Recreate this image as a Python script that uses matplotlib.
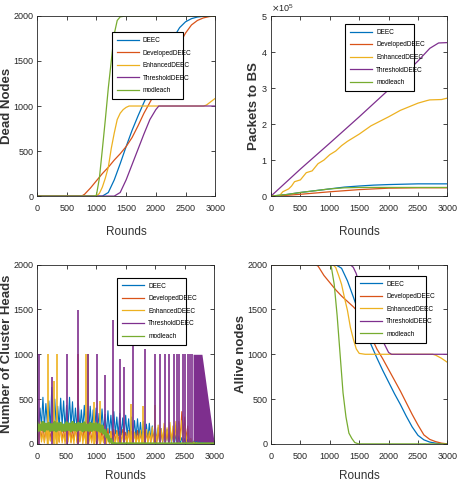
import numpy as np
import matplotlib
matplotlib.use('Agg')
import matplotlib.pyplot as plt

plt.rcParams['font.family'] = ['Liberation Sans', 'DejaVu Sans']

# ---- shared ----
PROTOCOLS = ['DEEC', 'DevelopedDEEC', 'EnhancedDEEC', 'ThresholdDEEC', 'modleach']
COLORS = ['#0072BD', '#D95319', '#EDB120', '#7E2F8E', '#77AC30']

# ---- dead nodes (rounds, dead) ----
dead_deec_x = [0, 1100, 1200, 1300, 1400, 1500, 1600, 1700, 1800, 1900, 2000, 2100, 2200,
               2300, 2400, 2500, 2600, 2700, 2800, 2900, 3000]
dead_deec_y = [0, 0, 40, 180, 360, 550, 730, 890, 1040, 1180, 1320, 1460, 1610,
               1760, 1870, 1935, 1970, 1988, 1996, 1999, 2000]
dead_dev_x = [0, 750, 800, 900, 1000, 1100, 1200, 1300, 1400, 1500, 1600, 1700, 1800, 1900,
              2000, 2100, 2200, 2300, 2400, 2500, 2600, 2700, 2800, 2900, 3000]
dead_dev_y = [0, 0, 20, 90, 170, 250, 320, 400, 470, 550, 650, 780, 920, 1040,
              1160, 1290, 1420, 1560, 1690, 1810, 1900, 1950, 1978, 1993, 2000]
dead_enh_x = [0, 1000, 1050, 1100, 1150, 1200, 1250, 1300, 1350, 1400, 1450, 1500, 1550,
              2800, 2850, 2900, 3000]
dead_enh_y = [0, 0, 30, 100, 200, 320, 530, 700, 850, 920, 960, 985, 1000,
              1000, 1010, 1035, 1085]
dead_thr_x = [0, 1300, 1400, 1500, 1600, 1700, 1800, 1900, 2000, 2050, 3000]
dead_thr_y = [0, 0, 40, 180, 350, 520, 690, 850, 960, 1000, 1000]
dead_mod_x = [0, 950, 1000, 1050, 1100, 1150, 1200, 1250, 1300, 1350, 1400, 1500, 3000]
dead_mod_y = [0, 0, 10, 200, 520, 850, 1200, 1500, 1800, 1950, 1990, 2000, 2000]

# ---- packets to BS ----
pk_deec_x = [0, 250, 500, 750, 1000, 1250, 1500, 1750, 2000, 2500, 3000]
pk_deec_y = [0, 4000, 10000, 15000, 20000, 25000, 28000, 30500, 32000, 34000, 34000]
pk_dev_x = [0, 250, 500, 750, 1000, 1250, 1500, 2000, 2500, 3000]
pk_dev_y = [0, 2000, 5000, 8500, 12000, 15000, 18000, 22000, 23000, 23000]
pk_enh_x = [0, 150, 200, 300, 350, 400, 500, 550, 600, 700, 750, 800, 900, 1000, 1100, 1200,
            1300, 1500, 1700, 2000, 2200, 2500, 2650, 2700, 2900, 3000]
pk_enh_y = [0, 2000, 12000, 20000, 28000, 40000, 45000, 55000, 65000, 70000, 80000, 90000,
            100000, 115000, 125000, 140000, 152000, 172000, 195000, 220000, 238000, 258000,
            265000, 267000, 268000, 272000]
pk_thr_x = [0, 500, 1000, 1500, 2000, 2500, 2700, 2850, 3000]
pk_thr_y = [0, 75000, 147000, 220000, 295000, 375000, 410000, 425000, 426000]
pk_mod_x = [0, 250, 500, 750, 1000, 1250, 1500, 2000, 2500, 3000]
pk_mod_y = [0, 4000, 10000, 15000, 20000, 23000, 24000, 24000, 24000, 24000]

# ---- cluster heads: noisy band read as peaks (every 50 rounds) and troughs (offset 25) ----
ch_peak_x = list(range(0, 3001, 50))
ch_trough_x = list(range(25, 3000, 50))
ch_deec_peak = [350, 400, 520, 450, 480, 630, 500, 420, 510, 480, 430, 520, 470, 400, 450, 380,
                430, 360, 420, 380, 400, 340, 390, 330, 370, 320, 360, 300, 340, 290, 320, 280,
                300, 260, 280, 240, 250, 220, 230, 200, 210, 180, 170, 150, 160, 130, 120, 100,
                90, 70, 60, 50, 40, 30, 25, 20, 15, 10, 8, 5, 3]
ch_deec_trough = [150, 200, 180, 220, 160, 250, 200, 180, 210, 170, 190, 200, 150, 180, 160, 170,
                  150, 140, 160, 130, 150, 120, 140, 110, 120, 100, 110, 90, 100, 80, 90, 70,
                  80, 60, 70, 50, 60, 40, 50, 40, 30, 30, 20, 20, 15, 10, 10, 8, 5, 5,
                  3, 3, 2, 2, 1, 1, 0, 0, 0, 0]
ch_dev_peak = [200, 180, 230, 170, 220, 190, 240, 180, 210, 170, 200, 230, 180, 190, 220, 170,
               200, 180, 190, 160, 180, 170, 160, 150, 170, 140, 160, 150, 140, 160, 130, 150,
               140, 130, 150, 120, 140, 130, 120, 140, 130, 150, 120, 160, 130, 170, 150, 200,
               250, 360, 300, 200, 60, 20, 10, 5, 0, 0, 0, 0, 0]
ch_dev_trough = [30, 50, 20, 60, 40, 30, 50, 20, 40, 30, 50, 20, 40, 30, 30, 40,
                 20, 30, 30, 20, 30, 20, 30, 20, 20, 30, 20, 20, 10, 20, 20, 10,
                 20, 10, 20, 10, 10, 20, 10, 20, 10, 20, 20, 30, 20, 40, 40, 60,
                 80, 100, 40, 10, 5, 0, 0, 0, 0, 0, 0, 0]
ch_enh_peak = [150, 250, 120, 220, 180, 100, 260, 150, 200, 120, 240, 160, 110, 230, 140, 200,
               120, 180, 100, 220, 130, 170, 90, 160, 110, 140, 80, 130, 100, 120, 90, 140,
               100, 130, 90, 150, 120, 160, 140, 190, 150, 210, 170, 230, 180, 240, 200, 250,
               220, 260, 200, 150, 60, 20, 10, 0, 0, 0, 0, 0, 0]
ch_enh_trough = [0, 20, 10, 0, 30, 10, 0, 20, 10, 0, 20, 10, 0, 10, 20, 0,
                 10, 0, 10, 0, 10, 0, 10, 0, 0, 10, 0, 0, 10, 0, 0, 10,
                 0, 0, 10, 0, 10, 0, 20, 10, 20, 10, 30, 20, 30, 20, 40, 30,
                 40, 30, 20, 10, 0, 0, 0, 0, 0, 0, 0, 0]
ch_mod_peak = [230, 210, 240, 220, 230, 215, 240, 225, 230, 210, 235, 220, 240, 215, 230, 220,
               235, 210, 230, 220, 225, 215, 200, 150, 100, 50, 5, 0, 0, 0, 0, 0,
               0, 0, 0, 0, 0, 0, 0, 0, 0, 0, 0, 0, 0, 0, 0, 0,
               0, 0, 0, 0, 0, 0, 0, 0, 0, 0, 0, 0, 0]
ch_mod_trough = [150, 160, 145, 165, 150, 155, 145, 160, 150, 150, 160, 145, 155, 150, 160, 145,
                 155, 150, 150, 160, 150, 140, 120, 80, 30, 0, 0, 0, 0, 0, 0, 0,
                 0, 0, 0, 0, 0, 0, 0, 0, 0, 0, 0, 0, 0, 0, 0, 0,
                 0, 0, 0, 0, 0, 0, 0, 0, 0, 0, 0, 0]

# single-round spikes (round, height)
spk_thr_x = [0, 30, 250, 500, 690, 870, 1010, 1150, 1290, 1400, 1480, 1620, 1830, 1990, 2085,
             2160, 2240, 2310, 2370, 2410, 2470, 2510, 2550, 2590, 2620]
spk_thr_y = [1610, 1000, 750, 1000, 1490, 1000, 1000, 770, 1380, 950, 860, 1100, 1060, 1000, 1000,
             1000, 1000, 1000, 1000, 1000, 1000, 1000, 1000, 1000, 1000]
spk_enh_x = [180, 290, 330, 825, 870, 970, 1070, 1590, 1800, 2000]
spk_enh_y = [1000, 700, 1000, 1000, 1000, 470, 480, 450, 420, 430]
spk_dev_x = [690]
spk_dev_y = [1000]
# dense ThresholdDEEC block at the end
blk_thr_x = [2640, 2790, 3000]
blk_thr_y = [1000, 1000, 0]

# ---- alive nodes ----
al_deec_x = [0, 1100, 1200, 1300, 1400, 1500, 1600, 1700, 1800, 1900, 2000, 2100, 2200,
             2300, 2400, 2500, 2600, 2700, 2800, 2900, 3000]
al_deec_y = [2000, 2000, 1960, 1820, 1640, 1450, 1270, 1110, 960, 820, 690, 560, 440,
             310, 190, 95, 45, 20, 8, 2, 0]
al_dev_x = [0, 750, 800, 900, 1000, 1100, 1200, 1300, 1400, 1500, 1600, 1700, 1800, 1900,
            2000, 2100, 2200, 2300, 2400, 2500, 2600, 2700, 2800, 2900, 3000]
al_dev_y = [2000, 2000, 1985, 1880, 1800, 1720, 1650, 1590, 1530, 1460, 1340, 1200, 1060, 950,
            830, 710, 590, 460, 330, 210, 100, 50, 25, 8, 0]
al_enh_x = [0, 1050, 1100, 1150, 1200, 1250, 1300, 1350, 1400, 1450, 1500, 1600, 2750, 2800,
            2900, 3000]
al_enh_y = [2000, 2000, 1970, 1880, 1780, 1630, 1490, 1300, 1170, 1060, 1010, 1000, 1000, 990,
            955, 910]
al_thr_x = [0, 1350, 1400, 1450, 1500, 1600, 1700, 1800, 1900, 2000, 2050, 3000]
al_thr_y = [2000, 2000, 1970, 1900, 1780, 1620, 1470, 1300, 1150, 1020, 1000, 1000]
al_mod_x = [0, 1000, 1025, 1075, 1125, 1175, 1225, 1275, 1325, 1375, 1425, 1475, 1500, 3000]
al_mod_y = [2000, 2000, 1980, 1780, 1430, 1000, 570, 300, 120, 60, 15, 3, 0, 0]

TICK_FS = 6.5
LABEL_FS = 9.5


def style_axes(ax, ylabel, yticks, ylabel_x, xlabelpad):
    ax.set_xlim(0, 3000)
    ax.set_xticks(range(0, 3001, 500))
    ax.set_yticks(yticks)
    ax.tick_params(direction='in', top=True, right=True, length=3, width=0.6,
                   labelsize=TICK_FS, colors='#262626', pad=2.5)
    ax.tick_params(axis='x', pad=6)
    for s in ax.spines.values():
        s.set_linewidth(0.6)
        s.set_color('#262626')
    ax.set_xlabel('Rounds', fontsize=8.5, color='#333333', labelpad=xlabelpad)
    ax.set_ylabel(ylabel, fontsize=LABEL_FS, color='#333333', fontweight='bold')
    ax.yaxis.set_label_coords(ylabel_x, 0.5)
    ax.yaxis.label.set_verticalalignment('center')


def add_legend(ax, handles, x0, ytop, w):
    h = 0.05
    leg = ax.legend(handles, PROTOCOLS, loc='upper left', bbox_to_anchor=(x0, ytop - h, w, h),
                    mode='expand', fontsize=4.7, handlelength=3.4, handletextpad=0.6,
                    labelspacing=0.85, borderpad=0.75, fancybox=False, framealpha=1,
                    edgecolor='black', borderaxespad=0)
    leg.get_frame().set_linewidth(0.8)


def plot_curves(ax, series):
    handles = []
    for (x, y), c in zip(series, COLORS):
        handles.append(ax.plot(x, y, color=c, lw=0.9)[0])
    return handles


fig = plt.figure(figsize=(4.57, 4.83), dpi=100)
ax_dead = fig.add_axes([0.081, 0.594, 0.39, 0.373])
ax_pk = fig.add_axes([0.593, 0.594, 0.386, 0.373])
ax_ch = fig.add_axes([0.081, 0.081, 0.388, 0.371])
ax_al = fig.add_axes([0.593, 0.081, 0.386, 0.371])

# dead nodes
h = plot_curves(ax_dead, [(dead_deec_x, dead_deec_y), (dead_dev_x, dead_dev_y),
                          (dead_enh_x, dead_enh_y), (dead_thr_x, dead_thr_y),
                          (dead_mod_x, dead_mod_y)])
ax_dead.set_ylim(0, 2000)
style_axes(ax_dead, 'Dead Nodes', range(0, 2001, 500), -0.168, 9)
add_legend(ax_dead, h, 0.42, 0.91, 0.40)

# packets to BS
h = plot_curves(ax_pk, [(pk_deec_x, pk_deec_y), (pk_dev_x, pk_dev_y),
                        (pk_enh_x, pk_enh_y), (pk_thr_x, pk_thr_y),
                        (pk_mod_x, pk_mod_y)])
ax_pk.set_ylim(0, 500000)
style_axes(ax_pk, 'Packets to BS', range(0, 500001, 100000), -0.095, 9)
ax_pk.ticklabel_format(style='sci', axis='y', scilimits=(0, 0), useMathText=True)
ax_pk.yaxis.get_offset_text().set_fontsize(TICK_FS)
add_legend(ax_pk, h, 0.42, 0.955, 0.39)

# cluster heads
ch_series = [(ch_deec_peak, ch_deec_trough), (ch_dev_peak, ch_dev_trough),
             (ch_enh_peak, ch_enh_trough), (None, None), (ch_mod_peak, ch_mod_trough)]
spikes = [([], []), (spk_dev_x, spk_dev_y), (spk_enh_x, spk_enh_y),
          (spk_thr_x, spk_thr_y), ([], [])]
h = []
for i, c in enumerate(COLORS):
    peak, trough = ch_series[i]
    if peak is None:
        line, = ax_ch.plot([0, 3000], [0, 0], color=c, lw=0.8)
        ax_ch.fill_between(blk_thr_x, 0, blk_thr_y, color=c, lw=0)
    else:
        xs = np.empty(len(ch_peak_x) + len(ch_trough_x))
        ys = np.empty_like(xs)
        xs[0::2], ys[0::2] = ch_peak_x, peak
        xs[1::2], ys[1::2] = ch_trough_x, trough
        line, = ax_ch.plot(xs, ys, color=c, lw=0.8 if i < 4 else 2.2)
    h.append(line)
    sx, sy = spikes[i]
    if sx:
        ax_ch.vlines(sx, 0, sy, color=c, lw=1.2)
ax_ch.set_ylim(0, 2000)
style_axes(ax_ch, 'Number of Cluster Heads', range(0, 2001, 500), -0.168, 6)
leg_lines = [plt.Line2D([0], [0], color=c, lw=0.9) for c in COLORS]
add_legend(ax_ch, leg_lines, 0.452, 0.927, 0.39)

# alive nodes
h = plot_curves(ax_al, [(al_deec_x, al_deec_y), (al_dev_x, al_dev_y),
                        (al_enh_x, al_enh_y), (al_thr_x, al_thr_y),
                        (al_mod_x, al_mod_y)])
ax_al.set_ylim(0, 2000)
style_axes(ax_al, 'Allive nodes', range(0, 2001, 500), -0.17, 6)
add_legend(ax_al, h, 0.478, 0.939, 0.398)

fig.savefig('out.png', dpi=100)
